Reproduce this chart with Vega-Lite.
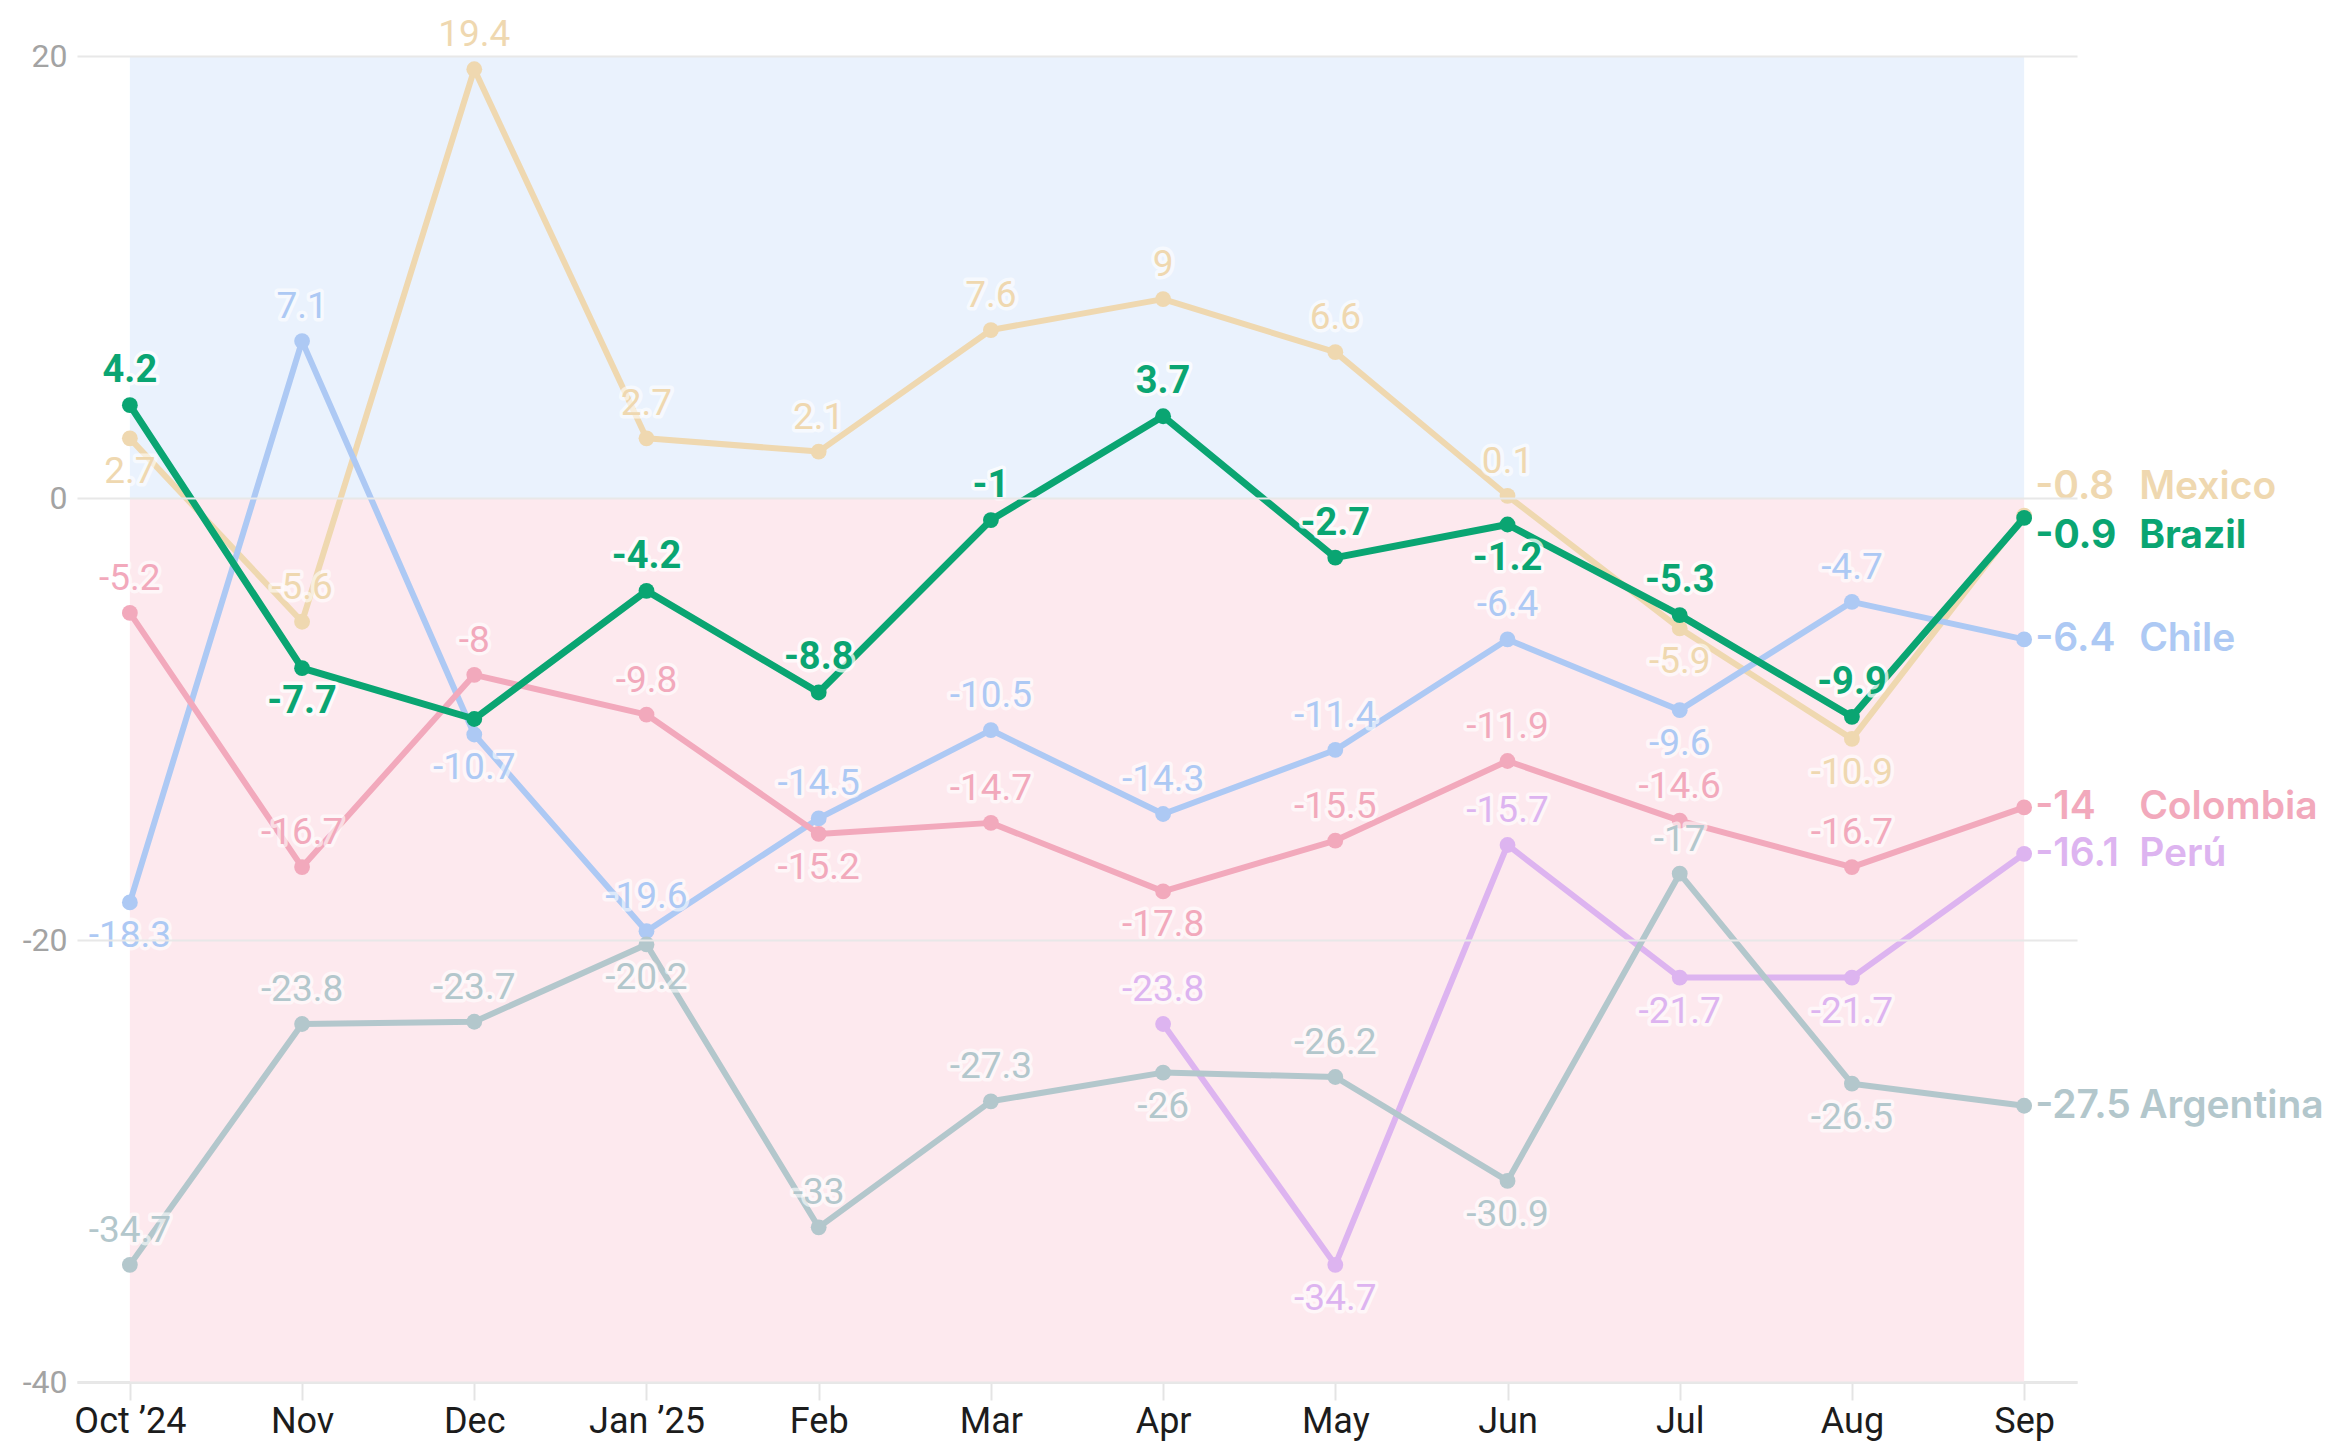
{
  "$schema": "https://vega.github.io/schema/vega-lite/v6.json",
  "width": 2000,
  "height": 1326,
  "autosize": {"type": "none"},
  "padding": {"left": 77, "top": 56, "right": 258, "bottom": 59},
  "background": "white",
  "config": {
    "view": {"stroke": null},
    "locale": {"number": {"decimal": ".", "thousands": ",", "grouping": [3], "currency": ["$", ""], "minus": "-"}}
  },
  "data": {"values": [
    {"country": "Mexico", "month": "Oct ’24", "value": 2.7},
    {"country": "Mexico", "month": "Nov", "value": -5.6},
    {"country": "Mexico", "month": "Dec", "value": 19.4},
    {"country": "Mexico", "month": "Jan ’25", "value": 2.7},
    {"country": "Mexico", "month": "Feb", "value": 2.1},
    {"country": "Mexico", "month": "Mar", "value": 7.6},
    {"country": "Mexico", "month": "Apr", "value": 9},
    {"country": "Mexico", "month": "May", "value": 6.6},
    {"country": "Mexico", "month": "Jun", "value": 0.1},
    {"country": "Mexico", "month": "Jul", "value": -5.9},
    {"country": "Mexico", "month": "Aug", "value": -10.9},
    {"country": "Mexico", "month": "Sep", "value": -0.8},
    {"country": "Brazil", "month": "Oct ’24", "value": 4.2},
    {"country": "Brazil", "month": "Nov", "value": -7.7},
    {"country": "Brazil", "month": "Dec", "value": -10},
    {"country": "Brazil", "month": "Jan ’25", "value": -4.2},
    {"country": "Brazil", "month": "Feb", "value": -8.8},
    {"country": "Brazil", "month": "Mar", "value": -1},
    {"country": "Brazil", "month": "Apr", "value": 3.7},
    {"country": "Brazil", "month": "May", "value": -2.7},
    {"country": "Brazil", "month": "Jun", "value": -1.2},
    {"country": "Brazil", "month": "Jul", "value": -5.3},
    {"country": "Brazil", "month": "Aug", "value": -9.9},
    {"country": "Brazil", "month": "Sep", "value": -0.9},
    {"country": "Chile", "month": "Oct ’24", "value": -18.3},
    {"country": "Chile", "month": "Nov", "value": 7.1},
    {"country": "Chile", "month": "Dec", "value": -10.7},
    {"country": "Chile", "month": "Jan ’25", "value": -19.6},
    {"country": "Chile", "month": "Feb", "value": -14.5},
    {"country": "Chile", "month": "Mar", "value": -10.5},
    {"country": "Chile", "month": "Apr", "value": -14.3},
    {"country": "Chile", "month": "May", "value": -11.4},
    {"country": "Chile", "month": "Jun", "value": -6.4},
    {"country": "Chile", "month": "Jul", "value": -9.6},
    {"country": "Chile", "month": "Aug", "value": -4.7},
    {"country": "Chile", "month": "Sep", "value": -6.4},
    {"country": "Colombia", "month": "Oct ’24", "value": -5.2},
    {"country": "Colombia", "month": "Nov", "value": -16.7},
    {"country": "Colombia", "month": "Dec", "value": -8},
    {"country": "Colombia", "month": "Jan ’25", "value": -9.8},
    {"country": "Colombia", "month": "Feb", "value": -15.2},
    {"country": "Colombia", "month": "Mar", "value": -14.7},
    {"country": "Colombia", "month": "Apr", "value": -17.8},
    {"country": "Colombia", "month": "May", "value": -15.5},
    {"country": "Colombia", "month": "Jun", "value": -11.9},
    {"country": "Colombia", "month": "Jul", "value": -14.6},
    {"country": "Colombia", "month": "Aug", "value": -16.7},
    {"country": "Colombia", "month": "Sep", "value": -14},
    {"country": "Perú", "month": "Apr", "value": -23.8},
    {"country": "Perú", "month": "May", "value": -34.7},
    {"country": "Perú", "month": "Jun", "value": -15.7},
    {"country": "Perú", "month": "Jul", "value": -21.7},
    {"country": "Perú", "month": "Aug", "value": -21.7},
    {"country": "Perú", "month": "Sep", "value": -16.1},
    {"country": "Argentina", "month": "Oct ’24", "value": -34.7},
    {"country": "Argentina", "month": "Nov", "value": -23.8},
    {"country": "Argentina", "month": "Dec", "value": -23.7},
    {"country": "Argentina", "month": "Jan ’25", "value": -20.2},
    {"country": "Argentina", "month": "Feb", "value": -33},
    {"country": "Argentina", "month": "Mar", "value": -27.3},
    {"country": "Argentina", "month": "Apr", "value": -26},
    {"country": "Argentina", "month": "May", "value": -26.2},
    {"country": "Argentina", "month": "Jun", "value": -30.9},
    {"country": "Argentina", "month": "Jul", "value": -17},
    {"country": "Argentina", "month": "Aug", "value": -26.5},
    {"country": "Argentina", "month": "Sep", "value": -27.5}
  ]},
  "encoding": {
    "x": {
      "field": "month", "type": "ordinal",
      "sort": ["Oct ’24", "Nov", "Dec", "Jan ’25", "Feb", "Mar", "Apr", "May", "Jun", "Jul", "Aug", "Sep"],
      "scale": {"type": "point", "padding": 0.307},
      "axis": {"title": null, "labelAngle": 0, "labelFont": "Roboto", "labelFontSize": 36, "labelColor": "#1c1c1c", "labelPadding": 4, "tickColor": "#e4e4e4", "tickSize": 18, "tickWidth": 2, "domainColor": "#e6e6e6", "domainWidth": 3, "grid": false}
    },
    "y": {
      "field": "value", "type": "quantitative",
      "scale": {"domain": [-40, 20], "nice": false, "zero": false},
      "axis": {"title": null, "values": [-40, -20, 0, 20], "labelFont": "Roboto", "labelFontSize": 32, "labelColor": "#a3a3a3", "ticks": false, "domain": false, "gridColor": "#e8e8e8", "gridWidth": 2, "labelPadding": 10, "zindex": 1}
    }
  },
  "layer": [
    {
      "mark": {"type": "area", "color": "#eaf2fd", "opacity": 1},
      "encoding": {"y": {"datum": 20}, "y2": {"datum": 0}}
    },
    {
      "mark": {"type": "area", "color": "#fde9ee", "opacity": 1},
      "encoding": {"y": {"datum": 0}, "y2": {"datum": -40}}
    },
    {
      "transform": [{"filter": "datum.country !== 'Brazil'"}],
      "mark": {"type": "line", "strokeWidth": 6, "strokeJoin": "round"},
      "encoding": {"color": {"field": "country", "type": "nominal", "legend": null,
        "scale": {"domain": ["Mexico", "Brazil", "Chile", "Colombia", "Perú", "Argentina"], "range": ["#efd8b0", "#0aa572", "#adc9f4", "#f2a9bc", "#ddb4f0", "#b3c7cc"]}}}
    },
    {
      "transform": [{"filter": "datum.country !== 'Brazil'"}],
      "mark": {"type": "circle", "size": 250, "opacity": 1},
      "encoding": {"color": {"field": "country", "type": "nominal", "legend": null}}
    },
    {
      "transform": [{"filter": "datum.country !== 'Brazil' && datum.month !== 'Sep' && indexof(['Mex|Oct','Mex|Jul','Mex|Aug','Chi|Oct','Chi|Dec','Chi|Jul','Col|Feb','Col|Apr','Per|May','Per|Jul','Per|Aug','Arg|Jan','Arg|Apr','Arg|Jun','Arg|Aug'], slice(datum.country, 0, 3) + '|' + slice(datum.month, 0, 3)) < 0"}],
      "mark": {"type": "text", "font": "Roboto", "fontSize": 37, "baseline": "middle", "align": "center", "dy": -34, "stroke": "#ffffff", "strokeWidth": 7, "strokeOpacity": 0.6, "strokeJoin": "round", "fill": "#ffffff", "fillOpacity": 0.6},
      "encoding": {"text": {"field": "value", "type": "nominal"}}
    },
    {
      "transform": [{"filter": "datum.country !== 'Brazil' && datum.month !== 'Sep' && indexof(['Mex|Oct','Mex|Jul','Mex|Aug','Chi|Oct','Chi|Dec','Chi|Jul','Col|Feb','Col|Apr','Per|May','Per|Jul','Per|Aug','Arg|Jan','Arg|Apr','Arg|Jun','Arg|Aug'], slice(datum.country, 0, 3) + '|' + slice(datum.month, 0, 3)) >= 0"}],
      "mark": {"type": "text", "font": "Roboto", "fontSize": 37, "baseline": "middle", "align": "center", "dy": 34, "stroke": "#ffffff", "strokeWidth": 7, "strokeOpacity": 0.6, "strokeJoin": "round", "fill": "#ffffff", "fillOpacity": 0.6},
      "encoding": {"text": {"field": "value", "type": "nominal"}}
    },
    {
      "transform": [{"filter": "datum.country !== 'Brazil' && datum.month !== 'Sep' && indexof(['Mex|Oct','Mex|Jul','Mex|Aug','Chi|Oct','Chi|Dec','Chi|Jul','Col|Feb','Col|Apr','Per|May','Per|Jul','Per|Aug','Arg|Jan','Arg|Apr','Arg|Jun','Arg|Aug'], slice(datum.country, 0, 3) + '|' + slice(datum.month, 0, 3)) < 0"}],
      "mark": {"type": "text", "font": "Roboto", "fontSize": 37, "baseline": "middle", "align": "center", "dy": -34},
      "encoding": {"text": {"field": "value", "type": "nominal"}, "color": {"field": "country", "type": "nominal", "legend": null}}
    },
    {
      "transform": [{"filter": "datum.country !== 'Brazil' && datum.month !== 'Sep' && indexof(['Mex|Oct','Mex|Jul','Mex|Aug','Chi|Oct','Chi|Dec','Chi|Jul','Col|Feb','Col|Apr','Per|May','Per|Jul','Per|Aug','Arg|Jan','Arg|Apr','Arg|Jun','Arg|Aug'], slice(datum.country, 0, 3) + '|' + slice(datum.month, 0, 3)) >= 0"}],
      "mark": {"type": "text", "font": "Roboto", "fontSize": 37, "baseline": "middle", "align": "center", "dy": 34},
      "encoding": {"text": {"field": "value", "type": "nominal"}, "color": {"field": "country", "type": "nominal", "legend": null}}
    },
    {
      "transform": [{"filter": "datum.country === 'Brazil'"}],
      "mark": {"type": "line", "strokeWidth": 7, "strokeJoin": "round"},
      "encoding": {"color": {"field": "country", "type": "nominal", "legend": null}}
    },
    {
      "transform": [{"filter": "datum.country === 'Brazil'"}],
      "mark": {"type": "circle", "size": 250, "opacity": 1},
      "encoding": {"color": {"field": "country", "type": "nominal", "legend": null}}
    },
    {
      "transform": [{"filter": "datum.country === 'Brazil' && datum.month !== 'Sep' && datum.month !== 'Dec' && datum.month !== 'Nov' && datum.month !== 'Jun'"}],
      "mark": {"type": "text", "font": "Roboto", "fontWeight": "bold", "fontSize": 38, "baseline": "middle", "align": "center", "dy": -34, "stroke": "#ffffff", "strokeWidth": 7, "strokeOpacity": 0.75, "strokeJoin": "round", "fill": "#ffffff", "fillOpacity": 0.75},
      "encoding": {"text": {"field": "value", "type": "nominal"}}
    },
    {
      "transform": [{"filter": "datum.country === 'Brazil' && (datum.month === 'Nov' || datum.month === 'Jun')"}],
      "mark": {"type": "text", "font": "Roboto", "fontWeight": "bold", "fontSize": 38, "baseline": "middle", "align": "center", "dy": 34, "stroke": "#ffffff", "strokeWidth": 7, "strokeOpacity": 0.75, "strokeJoin": "round", "fill": "#ffffff", "fillOpacity": 0.75},
      "encoding": {"text": {"field": "value", "type": "nominal"}}
    },
    {
      "transform": [{"filter": "datum.country === 'Brazil' && datum.month !== 'Sep' && datum.month !== 'Dec' && datum.month !== 'Nov' && datum.month !== 'Jun'"}],
      "mark": {"type": "text", "font": "Roboto", "fontWeight": "bold", "fontSize": 38, "baseline": "middle", "align": "center", "dy": -34},
      "encoding": {"text": {"field": "value", "type": "nominal"}, "color": {"field": "country", "type": "nominal", "legend": null}}
    },
    {
      "transform": [{"filter": "datum.country === 'Brazil' && (datum.month === 'Nov' || datum.month === 'Jun')"}],
      "mark": {"type": "text", "font": "Roboto", "fontWeight": "bold", "fontSize": 38, "baseline": "middle", "align": "center", "dy": 34},
      "encoding": {"text": {"field": "value", "type": "nominal"}, "color": {"field": "country", "type": "nominal", "legend": null}}
    },
    {
      "transform": [{"filter": "datum.country !== 'Brazil' && datum.country !== 'Mexico' && datum.month === 'Sep'"}],
      "mark": {"type": "text", "font": "Inter", "fontWeight": 600, "fontSize": 39, "baseline": "middle", "align": "left", "dx": 11},
      "encoding": {"text": {"field": "value", "type": "nominal"}, "color": {"field": "country", "type": "nominal", "legend": null}}
    },
    {
      "transform": [{"filter": "datum.country !== 'Brazil' && datum.country !== 'Mexico' && datum.month === 'Sep'"}],
      "mark": {"type": "text", "font": "Inter", "fontWeight": 600, "fontSize": 39, "baseline": "middle", "align": "left", "dx": 115},
      "encoding": {"text": {"field": "country", "type": "nominal"}, "color": {"field": "country", "type": "nominal", "legend": null}}
    },
    {
      "transform": [{"filter": "datum.country === 'Mexico' && datum.month === 'Sep'"}],
      "mark": {"type": "text", "font": "Inter", "fontWeight": 600, "fontSize": 39, "baseline": "middle", "align": "left", "dx": 11, "dy": -29},
      "encoding": {"text": {"field": "value", "type": "nominal"}, "color": {"field": "country", "type": "nominal", "legend": null}}
    },
    {
      "transform": [{"filter": "datum.country === 'Mexico' && datum.month === 'Sep'"}],
      "mark": {"type": "text", "font": "Inter", "fontWeight": 600, "fontSize": 39, "baseline": "middle", "align": "left", "dx": 115, "dy": -29},
      "encoding": {"text": {"field": "country", "type": "nominal"}, "color": {"field": "country", "type": "nominal", "legend": null}}
    },
    {
      "transform": [{"filter": "datum.country === 'Brazil' && datum.month === 'Sep'"}],
      "mark": {"type": "text", "font": "Inter", "fontWeight": 700, "fontSize": 39, "baseline": "middle", "align": "left", "dx": 11, "dy": 18},
      "encoding": {"text": {"field": "value", "type": "nominal"}, "color": {"field": "country", "type": "nominal", "legend": null}}
    },
    {
      "transform": [{"filter": "datum.country === 'Brazil' && datum.month === 'Sep'"}],
      "mark": {"type": "text", "font": "Inter", "fontWeight": 700, "fontSize": 39, "baseline": "middle", "align": "left", "dx": 115, "dy": 18},
      "encoding": {"text": {"field": "country", "type": "nominal"}, "color": {"field": "country", "type": "nominal", "legend": null}}
    }
  ]
}
